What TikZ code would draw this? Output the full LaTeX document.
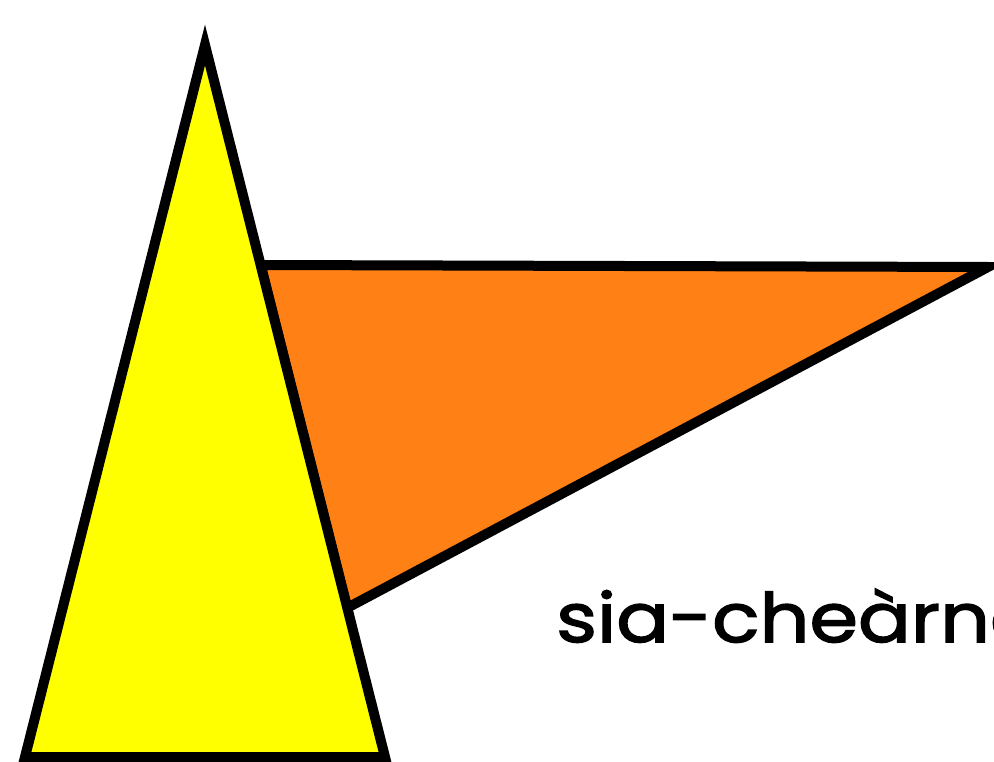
\documentclass[tikz,border=0pt]{standalone}
\usepackage{fontspec}
\newfontfamily\labelfont[FakeBold=2.2, FakeStretch=1.15]{Poppins}
\definecolor{triyellow}{RGB}{255,255,0}
\definecolor{triorange}{RGB}{255,128,20}
\begin{document}
\begin{tikzpicture}[
  x=0.03cm, y=-0.03cm,
  tri/.style={draw=black, line width=0.3cm, line join=miter},
  lbl/.style={font=\labelfont\fontsize{58}{60}\selectfont, anchor=base west, inner sep=0pt}]
\useasboundingbox (0,0) rectangle (994,762);
\clip (0,0) rectangle (994,762);
% corner points
\coordinate (apex) at (205,45);
\coordinate (baseL) at (25,757);
\coordinate (baseR) at (385,757);
\coordinate (oTop) at (260.6,265);
\coordinate (oTip) at (988,267);
\coordinate (oLow) at (347,608);
% orange triangle, behind
\filldraw[tri, fill=triorange] (oTop) -- (oTip) -- (oLow) -- cycle;
% yellow triangle
\filldraw[tri, fill=triyellow] (apex) -- (baseR) -- (baseL) -- cycle;
\node[lbl] (name) at (556,642) {sia-cheàrna};
\end{tikzpicture}
\end{document}
